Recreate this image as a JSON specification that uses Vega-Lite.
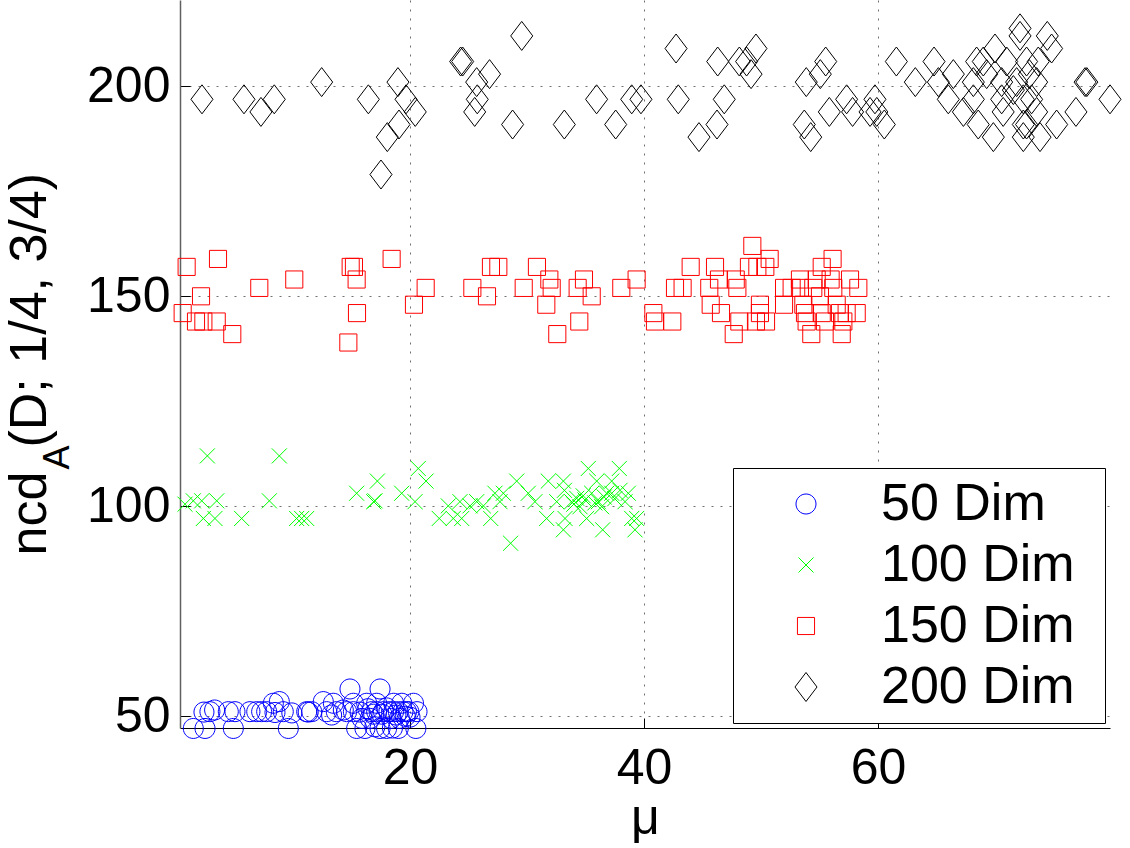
{
"$schema": "https://vega.github.io/schema/vega-lite/v6.json",
"width": 930, "height": 728,
"autosize": {"type": "none"},
"padding": {"left": 180, "top": 0, "right": 20, "bottom": 120},
"background": "white",
"config": {
  "view": {"stroke": null},
  "font": "Liberation Sans",
  "axis": {"labelFont": "Liberation Sans", "titleFont": "Liberation Sans", "labelFontSize": 50, "labelColor": "black", "titleColor": "black", "titleFontWeight": "normal", "tickSize": -10, "tickColor": "black", "tickWidth": 1, "domainColor": "black", "domainWidth": 1, "gridColor": "#707070", "gridDash": [2, 7], "gridWidth": 1, "gridOpacity": 1}
},
"datasets": {
"pts": [
{"s":"50 Dim","mu":1.48,"ncd":47.1},{"s":"50 Dim","mu":2.48,"ncd":47.1},{"s":"50 Dim","mu":2.39,"ncd":51.0},{"s":"50 Dim","mu":2.9,"ncd":51.1},{"s":"50 Dim","mu":4.47,"ncd":51.1},{"s":"50 Dim","mu":4.9,"ncd":47.1},{"s":"50 Dim","mu":5.04,"ncd":51.1},{"s":"50 Dim","mu":6.32,"ncd":51.1},{"s":"50 Dim","mu":6.9,"ncd":51.1},{"s":"50 Dim","mu":7.32,"ncd":51.1},{"s":"50 Dim","mu":7.75,"ncd":51.1},{"s":"50 Dim","mu":8.32,"ncd":53.1},{"s":"50 Dim","mu":8.83,"ncd":53.5},{"s":"50 Dim","mu":8.46,"ncd":50.9},{"s":"50 Dim","mu":9.17,"ncd":51.1},{"s":"50 Dim","mu":9.6,"ncd":47.1},{"s":"50 Dim","mu":11.17,"ncd":51.1},{"s":"50 Dim","mu":11.3,"ncd":51.0},{"s":"50 Dim","mu":11.6,"ncd":51.1},{"s":"50 Dim","mu":12.59,"ncd":53.5},{"s":"50 Dim","mu":12.88,"ncd":51.1},{"s":"50 Dim","mu":13.45,"ncd":53.1},{"s":"50 Dim","mu":13.7,"ncd":51.1},{"s":"50 Dim","mu":14.3,"ncd":51.5},{"s":"50 Dim","mu":14.59,"ncd":51.1},{"s":"50 Dim","mu":14.87,"ncd":56.5},{"s":"50 Dim","mu":15.16,"ncd":51.1},{"s":"50 Dim","mu":15.16,"ncd":53.1},{"s":"50 Dim","mu":15.44,"ncd":47.1},{"s":"50 Dim","mu":15.73,"ncd":51.0},{"s":"50 Dim","mu":15.9,"ncd":49.5},{"s":"50 Dim","mu":16.15,"ncd":47.1},{"s":"50 Dim","mu":16.3,"ncd":53.1},{"s":"50 Dim","mu":16.6,"ncd":49.5},{"s":"50 Dim","mu":16.73,"ncd":51.1},{"s":"50 Dim","mu":17.15,"ncd":51.1},{"s":"50 Dim","mu":17.15,"ncd":53.1},{"s":"50 Dim","mu":17.44,"ncd":56.5},{"s":"50 Dim","mu":17.44,"ncd":47.1},{"s":"50 Dim","mu":17.73,"ncd":51.1},{"s":"50 Dim","mu":18.0,"ncd":47.1},{"s":"50 Dim","mu":18.2,"ncd":51.1},{"s":"50 Dim","mu":18.4,"ncd":49.5},{"s":"50 Dim","mu":18.6,"ncd":51.1},{"s":"50 Dim","mu":18.6,"ncd":53.1},{"s":"50 Dim","mu":19.0,"ncd":51.1},{"s":"50 Dim","mu":19.0,"ncd":47.1},{"s":"50 Dim","mu":19.1,"ncd":49.5},{"s":"50 Dim","mu":19.3,"ncd":53.1},{"s":"50 Dim","mu":19.4,"ncd":51.1},{"s":"50 Dim","mu":19.7,"ncd":51.1},{"s":"50 Dim","mu":19.9,"ncd":51.1},{"s":"50 Dim","mu":20.3,"ncd":53.1},{"s":"50 Dim","mu":20.5,"ncd":47.1},{"s":"50 Dim","mu":20.6,"ncd":51.1},{"s":"50 Dim","mu":16.9,"ncd":50.5},{"s":"50 Dim","mu":17.6,"ncd":50.5},{"s":"50 Dim","mu":18.8,"ncd":50.3},{"s":"50 Dim","mu":19.6,"ncd":50.0},{"s":"50 Dim","mu":16.4,"ncd":51.8},{"s":"50 Dim","mu":18.0,"ncd":52.0},{"s":"50 Dim","mu":17.0,"ncd":47.5},{"s":"50 Dim","mu":18.5,"ncd":47.2},{"s":"50 Dim","mu":20.0,"ncd":49.8},{"s":"50 Dim","mu":13.3,"ncd":50.3},{"s":"50 Dim","mu":9.9,"ncd":50.8},{"s":"50 Dim","mu":3.3,"ncd":51.5},
{"s":"100 Dim","mu":0.77,"ncd":100.5},{"s":"100 Dim","mu":1.48,"ncd":101.3},{"s":"100 Dim","mu":2.68,"ncd":112},{"s":"100 Dim","mu":2.2,"ncd":101.3},{"s":"100 Dim","mu":3.48,"ncd":101.3},{"s":"100 Dim","mu":2.34,"ncd":97.1},{"s":"100 Dim","mu":3.33,"ncd":97.1},{"s":"100 Dim","mu":5.61,"ncd":97.1},{"s":"100 Dim","mu":7.98,"ncd":101.3},{"s":"100 Dim","mu":8.83,"ncd":112},{"s":"100 Dim","mu":10.31,"ncd":97.1},{"s":"100 Dim","mu":10.74,"ncd":97.1},{"s":"100 Dim","mu":11.17,"ncd":97.1},{"s":"100 Dim","mu":15.44,"ncd":103.1},{"s":"100 Dim","mu":17.01,"ncd":101.3},{"s":"100 Dim","mu":17.21,"ncd":106},{"s":"100 Dim","mu":16.9,"ncd":101.1},{"s":"100 Dim","mu":19.29,"ncd":103.1},{"s":"100 Dim","mu":20.71,"ncd":109},{"s":"100 Dim","mu":21.37,"ncd":106},{"s":"100 Dim","mu":20.43,"ncd":101.1},{"s":"100 Dim","mu":22.5,"ncd":97.1},{"s":"100 Dim","mu":23.27,"ncd":100.1},{"s":"100 Dim","mu":23.7,"ncd":97.1},{"s":"100 Dim","mu":24.42,"ncd":97.1},{"s":"100 Dim","mu":24.27,"ncd":101.1},{"s":"100 Dim","mu":25.13,"ncd":100.1},{"s":"100 Dim","mu":25.7,"ncd":101.1},{"s":"100 Dim","mu":26.27,"ncd":100.1},{"s":"100 Dim","mu":26.9,"ncd":97.1},{"s":"100 Dim","mu":27.26,"ncd":103.1},{"s":"100 Dim","mu":27.69,"ncd":101.1},{"s":"100 Dim","mu":27.98,"ncd":103.1},{"s":"100 Dim","mu":29.12,"ncd":106},{"s":"100 Dim","mu":28.6,"ncd":91.2},{"s":"100 Dim","mu":30.11,"ncd":103.1},{"s":"100 Dim","mu":30.68,"ncd":101.1},{"s":"100 Dim","mu":31.82,"ncd":106},{"s":"100 Dim","mu":31.68,"ncd":97.1},{"s":"100 Dim","mu":32.54,"ncd":101.1},{"s":"100 Dim","mu":33.11,"ncd":106},{"s":"100 Dim","mu":33.25,"ncd":97.1},{"s":"100 Dim","mu":33.11,"ncd":94.4},{"s":"100 Dim","mu":33.82,"ncd":101.1},{"s":"100 Dim","mu":34.25,"ncd":101.9},{"s":"100 Dim","mu":34.53,"ncd":99.9},{"s":"100 Dim","mu":34.96,"ncd":101.5},{"s":"100 Dim","mu":35.24,"ncd":109},{"s":"100 Dim","mu":35.1,"ncd":97.1},{"s":"100 Dim","mu":35.53,"ncd":103.1},{"s":"100 Dim","mu":35.96,"ncd":106},{"s":"100 Dim","mu":36.1,"ncd":101.1},{"s":"100 Dim","mu":36.47,"ncd":94.4},{"s":"100 Dim","mu":36.38,"ncd":99.9},{"s":"100 Dim","mu":36.81,"ncd":103.1},{"s":"100 Dim","mu":37.24,"ncd":106},{"s":"100 Dim","mu":37.24,"ncd":103.1},{"s":"100 Dim","mu":37.89,"ncd":109},{"s":"100 Dim","mu":37.95,"ncd":103.8},{"s":"100 Dim","mu":38.38,"ncd":101.1},{"s":"100 Dim","mu":38.66,"ncd":103.1},{"s":"100 Dim","mu":38.95,"ncd":97.1},{"s":"100 Dim","mu":39.23,"ncd":94.4},{"s":"100 Dim","mu":39.37,"ncd":97.1},{"s":"100 Dim","mu":33.2,"ncd":103.8},{"s":"100 Dim","mu":34.0,"ncd":100.5},{"s":"100 Dim","mu":34.8,"ncd":102.5},{"s":"100 Dim","mu":35.8,"ncd":100.8},{"s":"100 Dim","mu":36.6,"ncd":102.2},{"s":"100 Dim","mu":37.5,"ncd":101.8},
{"s":"150 Dim","mu":0.91,"ncd":157},{"s":"150 Dim","mu":3.59,"ncd":158.9},{"s":"150 Dim","mu":2.14,"ncd":150},{"s":"150 Dim","mu":0.57,"ncd":146},{"s":"150 Dim","mu":1.71,"ncd":144},{"s":"150 Dim","mu":2.34,"ncd":144},{"s":"150 Dim","mu":3.48,"ncd":144},{"s":"150 Dim","mu":4.81,"ncd":141},{"s":"150 Dim","mu":7.12,"ncd":152},{"s":"150 Dim","mu":10.11,"ncd":154},{"s":"150 Dim","mu":14.93,"ncd":157},{"s":"150 Dim","mu":15.21,"ncd":157},{"s":"150 Dim","mu":15.44,"ncd":154},{"s":"150 Dim","mu":15.47,"ncd":146},{"s":"150 Dim","mu":14.73,"ncd":139},{"s":"150 Dim","mu":18.43,"ncd":158.9},{"s":"150 Dim","mu":20.34,"ncd":148},{"s":"150 Dim","mu":21.34,"ncd":152},{"s":"150 Dim","mu":25.33,"ncd":152},{"s":"150 Dim","mu":26.58,"ncd":150},{"s":"150 Dim","mu":26.92,"ncd":157},{"s":"150 Dim","mu":27.55,"ncd":157},{"s":"150 Dim","mu":29.72,"ncd":152},{"s":"150 Dim","mu":30.85,"ncd":157},{"s":"150 Dim","mu":31.91,"ncd":154},{"s":"150 Dim","mu":32.11,"ncd":152},{"s":"150 Dim","mu":31.65,"ncd":148},{"s":"150 Dim","mu":32.59,"ncd":141},{"s":"150 Dim","mu":34.33,"ncd":152},{"s":"150 Dim","mu":34.87,"ncd":154},{"s":"150 Dim","mu":35.53,"ncd":150},{"s":"150 Dim","mu":34.47,"ncd":144},{"s":"150 Dim","mu":38.06,"ncd":152},{"s":"150 Dim","mu":39.37,"ncd":154},{"s":"150 Dim","mu":40.8,"ncd":146},{"s":"150 Dim","mu":40.94,"ncd":144},{"s":"150 Dim","mu":42.42,"ncd":144},{"s":"150 Dim","mu":42.65,"ncd":152},{"s":"150 Dim","mu":43.3,"ncd":152},{"s":"150 Dim","mu":43.99,"ncd":157},{"s":"150 Dim","mu":45.58,"ncd":152},{"s":"150 Dim","mu":45.7,"ncd":148},{"s":"150 Dim","mu":46.07,"ncd":157},{"s":"150 Dim","mu":46.41,"ncd":154},{"s":"150 Dim","mu":46.58,"ncd":146},{"s":"150 Dim","mu":47.67,"ncd":141},{"s":"150 Dim","mu":47.84,"ncd":154},{"s":"150 Dim","mu":47.98,"ncd":152},{"s":"150 Dim","mu":48.15,"ncd":144},{"s":"150 Dim","mu":49.26,"ncd":162},{"s":"150 Dim","mu":48.97,"ncd":157},{"s":"150 Dim","mu":49.69,"ncd":157},{"s":"150 Dim","mu":50.37,"ncd":157},{"s":"150 Dim","mu":50.74,"ncd":158.9},{"s":"150 Dim","mu":49.91,"ncd":148},{"s":"150 Dim","mu":49.91,"ncd":146},{"s":"150 Dim","mu":50.43,"ncd":144},{"s":"150 Dim","mu":49.57,"ncd":144},{"s":"150 Dim","mu":51.97,"ncd":152},{"s":"150 Dim","mu":51.97,"ncd":148},{"s":"150 Dim","mu":52.62,"ncd":152},{"s":"150 Dim","mu":53.33,"ncd":154},{"s":"150 Dim","mu":53.33,"ncd":152},{"s":"150 Dim","mu":53.62,"ncd":148},{"s":"150 Dim","mu":53.76,"ncd":146},{"s":"150 Dim","mu":54.3,"ncd":141},{"s":"150 Dim","mu":53.9,"ncd":144},{"s":"150 Dim","mu":54.47,"ncd":152},{"s":"150 Dim","mu":54.76,"ncd":154},{"s":"150 Dim","mu":55.19,"ncd":157},{"s":"150 Dim","mu":55.04,"ncd":150},{"s":"150 Dim","mu":55.19,"ncd":146},{"s":"150 Dim","mu":55.47,"ncd":144},{"s":"150 Dim","mu":56.12,"ncd":158.9},{"s":"150 Dim","mu":55.95,"ncd":154},{"s":"150 Dim","mu":56.18,"ncd":152},{"s":"150 Dim","mu":56.47,"ncd":148},{"s":"150 Dim","mu":56.75,"ncd":146},{"s":"150 Dim","mu":56.9,"ncd":141},{"s":"150 Dim","mu":57.04,"ncd":144},{"s":"150 Dim","mu":57.61,"ncd":154},{"s":"150 Dim","mu":57.32,"ncd":146},{"s":"150 Dim","mu":58.18,"ncd":146},{"s":"150 Dim","mu":58.32,"ncd":152},
{"s":"200 Dim","mu":2.22,"ncd":196.9},{"s":"200 Dim","mu":5.81,"ncd":196.9},{"s":"200 Dim","mu":7.26,"ncd":193.9},{"s":"200 Dim","mu":8.4,"ncd":196.9},{"s":"200 Dim","mu":12.45,"ncd":201},{"s":"200 Dim","mu":16.44,"ncd":196.9},{"s":"200 Dim","mu":18.97,"ncd":201},{"s":"200 Dim","mu":19.66,"ncd":196.9},{"s":"200 Dim","mu":20.45,"ncd":193.9},{"s":"200 Dim","mu":19.06,"ncd":190.9},{"s":"200 Dim","mu":18.06,"ncd":187.9},{"s":"200 Dim","mu":17.52,"ncd":179},{"s":"200 Dim","mu":24.33,"ncd":205.9},{"s":"200 Dim","mu":24.5,"ncd":205.9},{"s":"200 Dim","mu":25.7,"ncd":201},{"s":"200 Dim","mu":26.8,"ncd":202.9},{"s":"200 Dim","mu":25.75,"ncd":196.9},{"s":"200 Dim","mu":25.53,"ncd":193.9},{"s":"200 Dim","mu":29.55,"ncd":212},{"s":"200 Dim","mu":28.77,"ncd":190.9},{"s":"200 Dim","mu":33.19,"ncd":190.9},{"s":"200 Dim","mu":35.95,"ncd":196.9},{"s":"200 Dim","mu":37.58,"ncd":190.9},{"s":"200 Dim","mu":38.95,"ncd":196.9},{"s":"200 Dim","mu":39.74,"ncd":196.9},{"s":"200 Dim","mu":42.74,"ncd":209},{"s":"200 Dim","mu":42.93,"ncd":196.9},{"s":"200 Dim","mu":46.3,"ncd":205.9},{"s":"200 Dim","mu":46.86,"ncd":196.9},{"s":"200 Dim","mu":46.24,"ncd":190.9},{"s":"200 Dim","mu":44.7,"ncd":187.9},{"s":"200 Dim","mu":48.15,"ncd":205.9},{"s":"200 Dim","mu":48.77,"ncd":205.9},{"s":"200 Dim","mu":49.57,"ncd":209},{"s":"200 Dim","mu":49.15,"ncd":202.9},{"s":"200 Dim","mu":55.53,"ncd":205.9},{"s":"200 Dim","mu":55.07,"ncd":202.9},{"s":"200 Dim","mu":53.87,"ncd":201},{"s":"200 Dim","mu":53.7,"ncd":190.9},{"s":"200 Dim","mu":54.25,"ncd":187.9},{"s":"200 Dim","mu":55.84,"ncd":193.9},{"s":"200 Dim","mu":57.32,"ncd":196.9},{"s":"200 Dim","mu":57.83,"ncd":193.9},{"s":"200 Dim","mu":59.74,"ncd":196.9},{"s":"200 Dim","mu":59.32,"ncd":193.9},{"s":"200 Dim","mu":59.9,"ncd":193.9},{"s":"200 Dim","mu":60.54,"ncd":190.9},{"s":"200 Dim","mu":61.57,"ncd":205.9},{"s":"200 Dim","mu":63.19,"ncd":201},{"s":"200 Dim","mu":64.79,"ncd":205.9},{"s":"200 Dim","mu":65.16,"ncd":201},{"s":"200 Dim","mu":66.44,"ncd":202.9},{"s":"200 Dim","mu":66.01,"ncd":196.9},{"s":"200 Dim","mu":68.43,"ncd":205.9},{"s":"200 Dim","mu":69,"ncd":205.9},{"s":"200 Dim","mu":70,"ncd":209},{"s":"200 Dim","mu":71,"ncd":205.9},{"s":"200 Dim","mu":72.14,"ncd":213.8},{"s":"200 Dim","mu":72.14,"ncd":212},{"s":"200 Dim","mu":74.47,"ncd":212},{"s":"200 Dim","mu":74.84,"ncd":209},{"s":"200 Dim","mu":73.7,"ncd":205.9},{"s":"200 Dim","mu":72.7,"ncd":205.9},{"s":"200 Dim","mu":72.94,"ncd":202.9},{"s":"200 Dim","mu":69.29,"ncd":202.9},{"s":"200 Dim","mu":68.15,"ncd":201},{"s":"200 Dim","mu":70.57,"ncd":201},{"s":"200 Dim","mu":71.85,"ncd":201},{"s":"200 Dim","mu":73.56,"ncd":201},{"s":"200 Dim","mu":71.57,"ncd":199.1},{"s":"200 Dim","mu":70.57,"ncd":196.9},{"s":"200 Dim","mu":68.15,"ncd":196.9},{"s":"200 Dim","mu":72.42,"ncd":196.9},{"s":"200 Dim","mu":73.13,"ncd":196.9},{"s":"200 Dim","mu":67.3,"ncd":193.9},{"s":"200 Dim","mu":70.7,"ncd":193.9},{"s":"200 Dim","mu":68.57,"ncd":190.9},{"s":"200 Dim","mu":69.86,"ncd":187.9},{"s":"200 Dim","mu":72.42,"ncd":190.9},{"s":"200 Dim","mu":72.7,"ncd":190.9},{"s":"200 Dim","mu":72.42,"ncd":187.9},{"s":"200 Dim","mu":73.85,"ncd":187.9},{"s":"200 Dim","mu":73.56,"ncd":193.9},{"s":"200 Dim","mu":75.27,"ncd":190.9},{"s":"200 Dim","mu":76.92,"ncd":193.9},{"s":"200 Dim","mu":77.7,"ncd":201},{"s":"200 Dim","mu":77.85,"ncd":201},{"s":"200 Dim","mu":79.83,"ncd":196.9}
]
},
"data": {"name": "pts"},
"encoding": {
  "x": {"field": "mu", "type": "quantitative",
    "scale": {"domain": [0.342, 79.83], "nice": false, "zero": false},
    "axis": {"values": [20, 40, 60], "title": "μ", "titleFontSize": 50, "labelPadding": 25, "titleX": 465, "titleY": 105, "titleAlign": "center", "titleBaseline": "alphabetic", "titleAngle": 0, "labelFlush": false, "labelOverlap": false}}
},
"layer": [
  {"mark": {"type": "point", "filled": false, "size": 841, "strokeWidth": 1, "opacity": 1, "clip": false},
   "encoding": {
     "y": {"field": "ncd", "type": "quantitative",
       "scale": {"domain": [47.21, 220.55], "nice": false, "zero": false},
       "axis": {"orient": "left", "values": [50, 100, 150, 200], "labelPadding": 20, "domainColor": "#606060", "domainWidth": 1.5, "title": "ncd", "titleFontSize": 52, "titleAngle": 270, "titleX": -135, "titleY": 555, "titleAlign": "left", "titleBaseline": "alphabetic", "labelFlush": false, "labelOverlap": false}},
     "color": {"field": "s", "type": "nominal",
       "scale": {"domain": ["50 Dim", "100 Dim", "150 Dim", "200 Dim"], "range": ["#0000ff", "#00ff00", "#ff0000", "#000000"]},
       "legend": {"orient": "none", "legendX": 553, "legendY": 468, "title": "\u00a0", "titleOrient": "right", "titleFontSize": 4, "titlePadding": 20, "labelFontSize": 52, "labelFont": "Liberation Sans", "labelColor": "black", "symbolSize": 841, "symbolStrokeWidth": 1, "strokeColor": "black", "fillColor": "white", "padding": 10, "rowPadding": 9, "symbolOffset": 37, "labelOffset": 49, "cornerRadius": 0, "labelLimit": 400}},
     "shape": {"field": "s", "type": "nominal",
       "scale": {"domain": ["50 Dim", "100 Dim", "150 Dim", "200 Dim"], "range": ["M0.69,0A0.69,0.69,0,1,1,-0.69,0A0.69,0.69,0,1,1,0.69,0Z", "M-0.52,-0.52L0.52,0.52M-0.52,0.52L0.52,-0.52", "M-0.59,-0.59H0.59V0.59H-0.59Z", "M0,-1L0.76,0L0,1L-0.76,0Z"]}}
   }},
  {"mark": {"type": "point", "opacity": 0},
   "encoding": {
     "y": {"field": "ncd", "type": "quantitative",
       "axis": {"orient": "left", "title": "A", "titleFontSize": 36, "titleAngle": 270, "titleX": -112, "titleY": 469, "titleAlign": "left", "titleBaseline": "alphabetic", "labels": false, "ticks": false, "domain": false, "grid": false}}
   }},
  {"mark": {"type": "point", "opacity": 0},
   "encoding": {
     "y": {"field": "ncd", "type": "quantitative",
       "axis": {"orient": "left", "title": "(D; 1/4, 3/4)", "titleFontSize": 52, "titleAngle": 270, "titleX": -135, "titleY": 447, "titleAlign": "left", "titleBaseline": "alphabetic", "labels": false, "ticks": false, "domain": false, "grid": false}}
   }}
],
"resolve": {"axis": {"y": "independent"}}
}
